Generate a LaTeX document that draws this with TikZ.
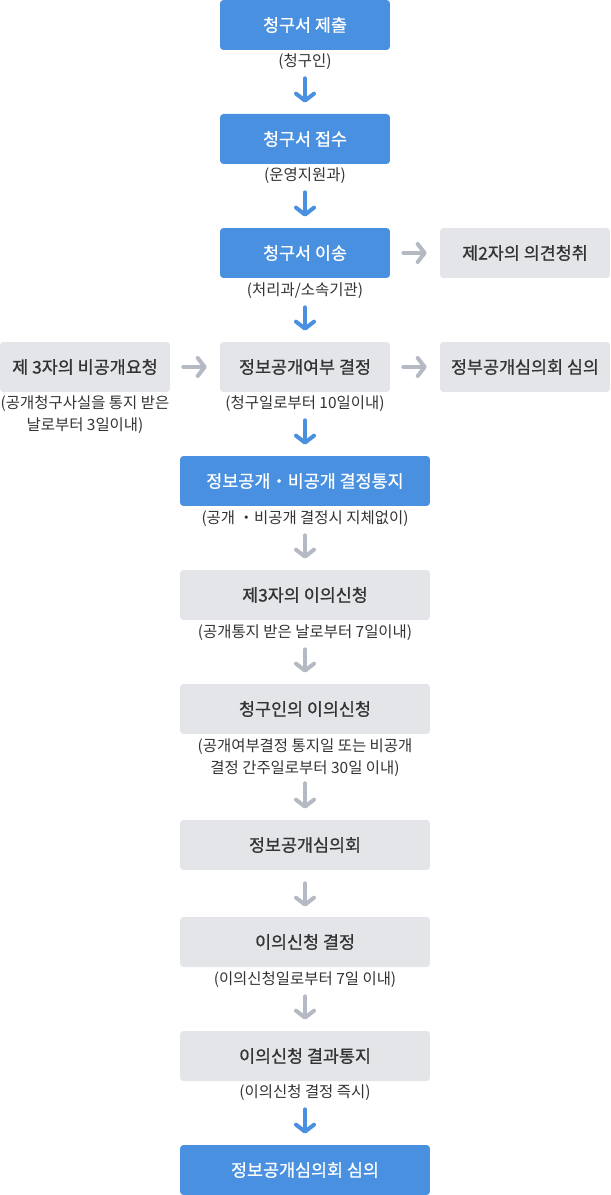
\documentclass[tikz,border=0pt]{standalone}
\usepackage{fontspec}
\setmainfont{Noto Sans CJK KR}
\newfontfamily\boxfont{Noto Sans CJK KR}[FakeBold=0.8]
\usepackage{xcolor}
\usepackage{tikz}
\usetikzlibrary{arrows.meta,positioning}

\definecolor{stepblue}{HTML}{4A90E0}
\definecolor{stepgray}{HTML}{E4E5E9}
\definecolor{arrowgray}{HTML}{B5B9C3}
\definecolor{textdark}{HTML}{333333}

\begin{document}
\begin{tikzpicture}[
  x=0.02cm, y=-0.02cm,
  font=\fontsize{8.8pt}{12.5pt}\selectfont,
  box/.style={rectangle, rounded corners=0.07cm, minimum width=3.4cm,
              minimum height=1cm, inner sep=1pt,
              font=\boxfont\fontsize{9.9pt}{12pt}\selectfont},
  bluebox/.style={box, fill=stepblue, text=white},
  graybox/.style={box, fill=stepgray, text=textdark},
  widebox/.style={minimum width=5cm},
  note/.style={inner sep=0pt, minimum height=0.4cm, align=center,
               text=textdark},
  arr/.style={line width=0.08cm, line cap=round,
              -{Straight Barb[length=0.14cm, width=0.36cm, round]}},
  downblue/.style={arr, stepblue, shorten <=0.12cm, shorten >=0.22cm},
  downgray/.style={arr, arrowgray, shorten <=0.12cm, shorten >=0.22cm},
  sidegray/.style={arr, arrowgray, shorten <=0.26cm, shorten >=0.26cm},
]
  \useasboundingbox (0,0) rectangle (610,1195);

  % main column
  \node[bluebox] (submit)   at (305,25)  {청구서 제출};
  \node[note]    (submitn)  at (305,62)  {(청구인)};
  \node[bluebox] (receive)  at (305,139) {청구서 접수};
  \node[note]    (receiven) at (305,176) {(운영지원과)};
  \node[bluebox] (transfer) at (305,253) {청구서 이송};
  \node[note]    (transfern) at (305,291) {(처리과/소속기관)};
  \node[graybox] (decide)   at (305,367) {정보공개여부 결정};
  \node[note]    (deciden)  at (305,404) {(청구일로부터 10일이내)};

  \node[bluebox, widebox] (notify)  at (305,481) {정보공개・비공개 결정통지};
  \node[note]    (notifyn)  at (305,519) {(공개 ・비공개 결정시 지체없이)};
  \node[graybox, widebox] (third)   at (305,595) {제3자의 이의신청};
  \node[note]    (thirdn)   at (305,633) {(공개통지 받은 날로부터 7일이내)};
  \node[graybox, widebox] (appeal)  at (305,709) {청구인의 이의신청};
  \node[note]    (appealn)  at (305,758)
    {(공개여부결정 통지일 또는 비공개\\결정 간주일로부터 30일 이내)};
  \node[graybox, widebox] (board)   at (305,845) {정보공개심의회};
  \node[graybox, widebox] (result)  at (305,942) {이의신청 결정};
  \node[note]    (resultn)  at (305,980) {(이의신청일로부터 7일 이내)};
  \node[graybox, widebox] (resnote) at (305,1056) {이의신청 결과통지};
  \node[note]    (resnoten) at (305,1093) {(이의신청 결정 즉시)};
  \node[bluebox, widebox] (review)  at (305,1170) {정보공개심의회 심의};

  % side boxes
  \node[graybox] (opinion)  at (525,253) {제2자의 의견청취};
  \node[graybox] (refuse)   at (85,367)  {제 3자의 비공개요청};
  \node[note]    (refusen)  at (85,415)
    {(공개청구사실을 통지 받은\\날로부터 3일이내)};
  \node[graybox] (council)  at (525,367) {정부공개심의회 심의};

  \draw[downblue] (submitn) -- (receive);
  \draw[downblue] (receiven) -- (transfer);
  \draw[downblue] (transfern) -- (decide);
  \draw[downblue] (deciden) -- (notify);
  \draw[downgray] (notifyn) -- (third);
  \draw[downgray] (thirdn) -- (appeal);
  \draw[downgray] (appealn) -- (board);
  \draw[downgray, shorten <=0.26cm, shorten >=0.2cm] (board) -- (result);
  \draw[downgray] (resultn) -- (resnote);
  \draw[downblue] (resnoten) -- (review);

  \draw[sidegray] (transfer) -- (opinion);
  \draw[sidegray] (refuse) -- (decide);
  \draw[sidegray] (decide) -- (council);
\end{tikzpicture}
\end{document}
